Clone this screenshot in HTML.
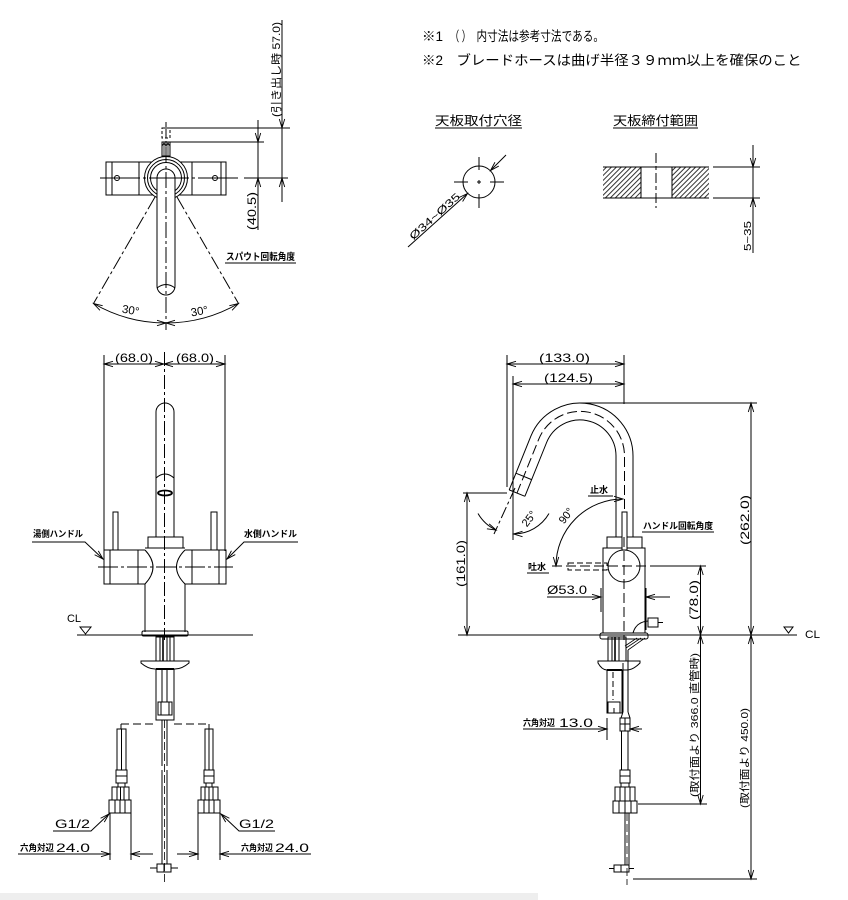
<!DOCTYPE html>
<html><head><meta charset="utf-8"><title>drawing</title>
<style>
html,body{margin:0;padding:0;background:#fff;width:848px;height:900px;overflow:hidden}
svg{display:block}
text{font-family:"Liberation Sans","Noto Sans CJK JP",sans-serif;fill:#000;stroke:none}
.b{font-weight:bold}
</style></head><body>
<svg width="848" height="900" viewBox="0 0 848 900" xmlns="http://www.w3.org/2000/svg">
<defs>
<marker id="a" markerUnits="userSpaceOnUse" markerWidth="12" markerHeight="8" refX="10" refY="4" orient="auto-start-reverse"><path d="M1,1.3 L10,4 L1,6.7" fill="none" stroke="#000" stroke-width="0.9"/></marker>
<pattern id="h" patternUnits="userSpaceOnUse" width="3.5" height="10" patternTransform="rotate(45)"><line x1="1" y1="0" x2="1" y2="10" stroke="#000" stroke-width="0.8"/></pattern>
</defs>
<rect x="0" y="893" width="538" height="7" fill="#eeeeee"/>

<g fill="none" stroke="#000" stroke-width="1">
<!-- ================= TOP VIEW ================= -->
<rect x="106" y="162" width="120" height="33"/>
<line x1="112" y1="162" x2="112" y2="195"/>
<line x1="139" y1="162" x2="139" y2="195"/>
<line x1="192" y1="162" x2="192" y2="195"/>
<line x1="221" y1="162" x2="221" y2="195"/>
<circle cx="117" cy="178" r="2.5"/>
<circle cx="215" cy="178" r="2.5"/>
<circle cx="166" cy="178" r="21.5" fill="#fff"/>
<circle cx="166" cy="178" r="18.5"/>
<circle cx="166" cy="178" r="15.5"/>
<rect x="162" y="142" width="8" height="14" fill="#fff"/>
<path d="M164,142 V156 M166,142 V156 M168,142 V156 M162,146 L164,143 L166,146 L168,143 L170,146" stroke-width="0.8"/>
<rect x="162" y="128" width="8" height="10" stroke-dasharray="3 2"/>
<path d="M157,178 A9,9 0 0 1 175,178 V286 A9,9 0 0 1 157,286 Z" fill="#fff"/>
<path d="M157,288 Q166,281 175,288"/>
<line x1="166" y1="122" x2="166" y2="330" stroke-dasharray="16 3 3 3"/>
<line x1="100" y1="178" x2="238" y2="178" stroke-dasharray="40 3 3 3"/>
<line x1="155" y1="197" x2="93.5" y2="303.5" stroke-dasharray="14 3 3 3"/>
<line x1="177" y1="197" x2="238.5" y2="303.5" stroke-dasharray="14 3 3 3"/>
<path d="M166,323 A145,145 0 0 1 93.5,303.5" marker-start="url(#a)" marker-end="url(#a)"/>
<path d="M166,323 A145,145 0 0 0 238.5,303.5" marker-start="url(#a)" marker-end="url(#a)"/>
<line x1="170" y1="128" x2="290" y2="128"/>
<line x1="170" y1="142" x2="264" y2="142"/>
<line x1="244" y1="178" x2="288" y2="178"/>
<line x1="258" y1="120" x2="258" y2="230"/>
<path d="M258,120 V142" marker-end="url(#a)"/>
<path d="M258,230 V178" marker-end="url(#a)"/>
<line x1="282" y1="20" x2="282" y2="202"/>
<path d="M282,100 V128" marker-end="url(#a)"/>
<path d="M282,202 V178" marker-end="url(#a)"/>
<line x1="225" y1="263" x2="296" y2="263"/>

<!-- ================= HOLE / THICKNESS ================= -->
<line x1="435" y1="128" x2="522" y2="128"/>
<line x1="613" y1="128" x2="698" y2="128"/>
<circle cx="479" cy="182" r="16"/>
<path d="M454,182 H468 M477,182 H481 M490,182 H504 M479,157 V170 M479,180 V184 M479,194 V208"/>
<path d="M506,155 L490.5,170.5" marker-end="url(#a)"/>
<path d="M408,247 L467.5,193.5" marker-end="url(#a)"/>
<rect x="603" y="167" width="38" height="31" fill="url(#h)" stroke="none"/>
<rect x="672" y="167" width="37" height="31" fill="url(#h)" stroke="none"/>
<line x1="603" y1="167" x2="709" y2="167"/>
<line x1="603" y1="198" x2="709" y2="198"/>
<line x1="641" y1="167" x2="641" y2="198"/>
<line x1="672" y1="167" x2="672" y2="198"/>
<line x1="656" y1="153" x2="656" y2="208" stroke-dasharray="10 3 4 3"/>
<line x1="713" y1="167" x2="760" y2="167"/>
<line x1="713" y1="198" x2="760" y2="198"/>
<line x1="753" y1="145" x2="753" y2="253"/>
<path d="M753,145 V167" marker-end="url(#a)"/>
<path d="M753,253 V198" marker-end="url(#a)"/>

<!-- ================= FRONT VIEW ================= -->
<line x1="104" y1="355" x2="104" y2="551"/>
<line x1="225" y1="355" x2="225" y2="551"/>
<path d="M104,364 H164" marker-start="url(#a)" marker-end="url(#a)"/>
<path d="M164,364 H225" marker-start="url(#a)" marker-end="url(#a)"/>
<path d="M156,537 V412 A9,9 0 0 1 174,412 V537" fill="#fff"/>
<path d="M156,478 Q165,470 174,478"/>
<ellipse cx="165" cy="493" rx="7" ry="2.5" stroke-width="1.8"/>
<rect x="148" y="537" width="35" height="11"/>
<line x1="145" y1="548" x2="185" y2="548"/>
<path d="M145,550 Q161,567 145,584"/>
<path d="M185,550 Q168,567 185,584"/>
<path d="M145,584 V632 M185,584 V632"/>
<path d="M145,550 H104 V584 H145"/>
<line x1="110" y1="550" x2="110" y2="584"/>
<line x1="138" y1="550" x2="138" y2="584"/>
<path d="M185,550 H226 V584 H185"/>
<line x1="192" y1="550" x2="192" y2="584"/>
<line x1="219" y1="550" x2="219" y2="584"/>
<rect x="113" y="512" width="5" height="38"/>
<rect x="211" y="512" width="6" height="38"/>
<rect x="142" y="631" width="46" height="5" rx="1.5"/>
<line x1="98" y1="567" x2="233" y2="567" stroke-dasharray="20 3 3 3"/>
<line x1="164.5" y1="352" x2="164.5" y2="640" stroke-dasharray="14 3 3 3"/>
<path d="M32,542 H85 L103,559" marker-end="url(#a)"/>
<path d="M298,542 H244 L227,559" marker-end="url(#a)"/>
<path d="M80,627 H91 L85.5,634 Z"/>
<line x1="77" y1="635" x2="253" y2="635"/>

<!-- front lower assembly -->
<rect x="156" y="637" width="18" height="24"/>
<line x1="160" y1="637" x2="160" y2="661"/>
<line x1="163" y1="637" x2="163" y2="661" stroke-width="1.6"/>
<line x1="167" y1="637" x2="167" y2="661"/>
<line x1="170" y1="637" x2="170" y2="661"/>
<path d="M141,661 H189 V663 Q182,669 175,669 H155 Q148,669 141,663 Z"/>
<rect x="156" y="669" width="18" height="51"/>
<line x1="156" y1="669" x2="174" y2="669" stroke-width="2"/>
<line x1="162" y1="669" x2="162" y2="702"/>
<line x1="167" y1="669" x2="167" y2="702"/>
<rect x="158" y="702" width="14" height="13"/>
<line x1="161" y1="702" x2="161" y2="715"/>
<line x1="169" y1="702" x2="169" y2="715"/>
<line x1="162" y1="720" x2="162" y2="766"/>
<line x1="167" y1="720" x2="167" y2="766"/>
<line x1="162" y1="770" x2="162" y2="864"/>
<line x1="167" y1="770" x2="167" y2="864"/>
<line x1="164.5" y1="720" x2="164.5" y2="885" stroke-dasharray="8 3" stroke-width="0.8"/>
<rect x="157" y="864" width="14" height="8"/>
<line x1="164" y1="864" x2="164" y2="872"/>
<path d="M150,868 H157 M171,868 H178"/>
<!-- connecting dashed -->
<path d="M121,724 V729 M209,724 V729"/>
<line x1="121" y1="724" x2="156" y2="724" stroke-dasharray="8 4"/>
<line x1="174" y1="724" x2="209" y2="724" stroke-dasharray="8 4"/>
<!-- left hose -->
<rect x="117" y="729" width="9" height="41"/>
<line x1="121.5" y1="729" x2="121.5" y2="770"/>
<rect x="116" y="770" width="11" height="13"/>
<line x1="116" y1="776" x2="127" y2="776"/>
<rect x="118" y="783" width="7" height="4"/>
<rect x="112" y="787" width="17" height="13"/>
<path d="M117,787 V800 M120.5,787 V800 M124,787 V800"/>
<rect x="109" y="800" width="22" height="13"/>
<path d="M115,800 V813 M120,800 V813 M125,800 V813"/>
<!-- right hose -->
<rect x="205" y="729" width="8" height="41"/>
<line x1="209" y1="729" x2="209" y2="770"/>
<rect x="204" y="770" width="10" height="13"/>
<line x1="204" y1="776" x2="214" y2="776"/>
<rect x="206" y="783" width="6" height="4"/>
<rect x="201" y="787" width="17" height="13"/>
<path d="M205,787 V800 M209,787 V800 M213,787 V800"/>
<rect x="198" y="800" width="22" height="13"/>
<path d="M204,800 V813 M209,800 V813 M214,800 V813"/>
<!-- G1/2 & hex dims -->
<path d="M53,831 H91 L109,814" marker-end="url(#a)"/>
<path d="M275,831 H239 L221,814" marker-end="url(#a)"/>
<line x1="110" y1="813" x2="110" y2="860"/>
<line x1="131" y1="813" x2="131" y2="860"/>
<path d="M18,854 H110" marker-end="url(#a)"/>
<path d="M153,854 H131" marker-end="url(#a)"/>
<line x1="198" y1="813" x2="198" y2="860"/>
<line x1="220" y1="813" x2="220" y2="860"/>
<path d="M177,854 H198" marker-end="url(#a)"/>
<path d="M311,854 H220" marker-end="url(#a)"/>

<!-- ================= SIDE VIEW ================= -->
<line x1="507" y1="355" x2="507" y2="487"/>
<line x1="513" y1="376" x2="513" y2="540"/>
<line x1="624" y1="355" x2="624" y2="404"/>
<path d="M507,364 H624" marker-start="url(#a)" marker-end="url(#a)"/>
<path d="M513,384 H624" marker-start="url(#a)" marker-end="url(#a)"/>
<line x1="580" y1="403" x2="757" y2="403"/>
<!-- spout -->
<path d="M633,537 V456 A53,53 0 0 0 530.9,436.1 L509.2,489.9"/>
<path d="M616,537 V456 A36,36 0 0 0 546.6,442.5 L524.9,496.3"/>
<path d="M509.2,489.9 L524.9,496.3"/>
<path d="M515.9,473.2 L531.6,479.6"/>
<path d="M624.5,537 V456 A44.5,44.5 0 0 0 538.7,439.3 L517,493" stroke-dasharray="10 4"/>
<!-- 25 deg -->
<line x1="515" y1="488" x2="494" y2="534" stroke-dasharray="12 3 3 3"/>
<path d="M478,513.5 A41,41 0 0 0 496.2,530.1" marker-end="url(#a)"/>
<path d="M549,513.5 A41,41 0 0 1 513.5,534" marker-end="url(#a)"/>
<!-- 161 -->
<line x1="463" y1="493" x2="507" y2="493"/>
<path d="M467,493 V635" marker-start="url(#a)" marker-end="url(#a)"/>
<!-- body -->
<rect x="607" y="537" width="35" height="11" fill="#fff"/>
<rect x="603" y="548" width="42" height="85"/>
<rect x="600" y="633" width="48" height="6" rx="2"/>
<circle cx="624" cy="566" r="16"/>
<rect x="622" y="512" width="5" height="38" fill="#fff"/>
<line x1="624" y1="537" x2="624" y2="640" stroke-dasharray="10 4"/>
<!-- 90 deg -->
<path d="M623,499 A67,67 0 0 0 556,566" marker-start="url(#a)" marker-end="url(#a)"/>
<rect x="568" y="563" width="39" height="7" stroke-dasharray="6 3"/>
<line x1="552" y1="566" x2="650" y2="566" stroke-dasharray="10 4"/>
<line x1="650" y1="566" x2="706" y2="566"/>
<line x1="588" y1="496" x2="613" y2="496"/>
<line x1="527" y1="573" x2="549" y2="573"/>
<line x1="642" y1="532" x2="714" y2="532"/>
<!-- fitting -->
<rect x="648" y="618" width="10" height="9"/>
<line x1="658" y1="622.5" x2="663" y2="622.5"/>
<path d="M633,633 Q636,622 648,621"/>
<!-- Ø53 -->
<line x1="601" y1="588" x2="601" y2="612"/>
<line x1="646" y1="588" x2="646" y2="630"/>
<path d="M547,597 H601" marker-end="url(#a)"/>
<path d="M670,597 H646" marker-end="url(#a)"/>
<!-- 78 / 262 / 366 / 450 -->
<path d="M700.5,566 V635" marker-start="url(#a)" marker-end="url(#a)"/>
<path d="M700.5,635 V804" marker-start="url(#a)" marker-end="url(#a)"/>
<line x1="638" y1="804" x2="707" y2="804"/>
<path d="M751,403 V635" marker-start="url(#a)" marker-end="url(#a)"/>
<path d="M751,635 V879" marker-start="url(#a)" marker-end="url(#a)"/>
<line x1="633" y1="879" x2="757" y2="879"/>
<!-- CL right -->
<line x1="458" y1="635" x2="797" y2="635"/>
<path d="M784,627 H793 L788.5,633 Z"/>
<!-- side lower assembly -->
<rect x="608" y="637" width="18" height="24"/>
<line x1="612" y1="637" x2="612" y2="661"/>
<line x1="615" y1="637" x2="615" y2="661" stroke-width="1.6"/>
<line x1="619" y1="637" x2="619" y2="661"/>
<path d="M645,638 L628,650 M641,638 L626,648 M637,638 L625,646" stroke-width="0.8"/>
<path d="M598,661 H640 V663 Q633,670 627,670 H607 Q602,670 598,663 Z"/>
<rect x="607" y="670" width="15" height="43"/>
<line x1="607" y1="670" x2="622" y2="670" stroke-width="2"/>
<rect x="608" y="702" width="12" height="11"/>
<line x1="614" y1="708" x2="614" y2="713"/>
<line x1="613" y1="672" x2="613" y2="700" stroke-dasharray="6 3"/>
<path d="M623,663 V712 M628,650 V712"/>
<rect x="620" y="718" width="10" height="13"/>
<path d="M620,724 H630 M625,718 V731"/>
<path d="M623,712 L621,718 M628,712 L630,718"/>
<rect x="621.5" y="731" width="6.5" height="39"/>
<rect x="620" y="770" width="10" height="13"/>
<line x1="620" y1="776" x2="630" y2="776"/>
<rect x="621" y="783" width="8" height="4"/>
<rect x="615" y="787" width="20" height="14"/>
<path d="M620,787 V801 M625,787 V801 M630,787 V801"/>
<rect x="613" y="801" width="24" height="12"/>
<path d="M619,801 V813 M625,801 V813 M631,801 V813"/>
<line x1="625" y1="813" x2="625" y2="865"/>
<line x1="629" y1="813" x2="629" y2="865"/>
<line x1="627" y1="813" x2="627" y2="885" stroke-dasharray="8 3" stroke-width="0.8"/>
<rect x="614" y="865" width="15" height="7"/>
<line x1="621" y1="865" x2="621" y2="872"/>
<path d="M609,868.5 H614 M629,868.5 H634"/>
<path d="M523,729 H607" marker-end="url(#a)"/>
<line x1="607" y1="718" x2="607" y2="740"/>
<path d="M642,729 H630" marker-end="url(#a)"/>
</g>

<!-- ================= TEXT ================= -->
<text x="422" y="41" font-size="13.5">※1</text>
<text x="450" y="41" font-size="13.5" textLength="21" lengthAdjust="spacingAndGlyphs">（ ）</text>
<text x="476.5" y="41" font-size="13.5" textLength="127.5" lengthAdjust="spacingAndGlyphs">内寸法は参考寸法である。</text>
<text x="422" y="65" font-size="13.5">※2</text>
<text x="456.5" y="65" font-size="13.5" textLength="345" lengthAdjust="spacingAndGlyphs">ブレードホースは曲げ半径３９ｍｍ以上を確保のこと</text>
<text x="435" y="125" font-size="12.5" textLength="87" lengthAdjust="spacingAndGlyphs">天板取付穴径</text>
<text x="613" y="125" font-size="12.5" textLength="85" lengthAdjust="spacingAndGlyphs">天板締付範囲</text>
<text transform="translate(437,219) rotate(-42)" text-anchor="middle" font-size="10.5" textLength="64" lengthAdjust="spacingAndGlyphs">Ø34~Ø35</text>
<text transform="translate(751,236) rotate(-90)" text-anchor="middle" font-size="10.5" textLength="30" lengthAdjust="spacingAndGlyphs">5~35</text>

<text transform="translate(256,211) rotate(-90)" text-anchor="middle" font-size="11.5" textLength="38" lengthAdjust="spacingAndGlyphs">(40.5)</text>
<text transform="translate(280,69.5) rotate(-90)" text-anchor="middle" font-size="11" textLength="95" lengthAdjust="spacingAndGlyphs">(引き出し時 57.0)</text>
<text x="226" y="260" font-size="9.5" class="b" textLength="69" lengthAdjust="spacingAndGlyphs">スパウト回転角度</text>
<text transform="translate(130,314) rotate(10)" text-anchor="middle" font-size="11.5">30°</text>
<text transform="translate(200,315) rotate(-10)" text-anchor="middle" font-size="11.5">30°</text>

<text x="115" y="362" font-size="12" textLength="38" lengthAdjust="spacingAndGlyphs">(68.0)</text>
<text x="176" y="362" font-size="12" textLength="38" lengthAdjust="spacingAndGlyphs">(68.0)</text>
<text x="33" y="537" font-size="9" class="b" textLength="50" lengthAdjust="spacingAndGlyphs">湯側ハンドル</text>
<text x="244" y="537" font-size="9" class="b" textLength="53" lengthAdjust="spacingAndGlyphs">水側ハンドル</text>
<text x="67" y="622" font-size="11" textLength="14" lengthAdjust="spacingAndGlyphs">CL</text>
<text x="55" y="828" font-size="12" textLength="35" lengthAdjust="spacingAndGlyphs">G1/2</text>
<text x="239" y="828" font-size="12" textLength="35" lengthAdjust="spacingAndGlyphs">G1/2</text>
<text x="20" y="851" font-size="9" class="b" textLength="34" lengthAdjust="spacingAndGlyphs">六角対辺</text>
<text x="56" y="852" font-size="12" textLength="34" lengthAdjust="spacingAndGlyphs">24.0</text>
<text x="241" y="851" font-size="9" class="b" textLength="32" lengthAdjust="spacingAndGlyphs">六角対辺</text>
<text x="275" y="852" font-size="12" textLength="34" lengthAdjust="spacingAndGlyphs">24.0</text>

<text x="539" y="362" font-size="12" textLength="51" lengthAdjust="spacingAndGlyphs">(133.0)</text>
<text x="544" y="382" font-size="12" textLength="49" lengthAdjust="spacingAndGlyphs">(124.5)</text>
<text transform="translate(532,521) rotate(-52)" text-anchor="middle" font-size="11">25°</text>
<text transform="translate(569,518) rotate(-52)" text-anchor="middle" font-size="11">90°</text>
<text x="590" y="493" font-size="9" class="b" textLength="18" lengthAdjust="spacingAndGlyphs">止水</text>
<text x="528" y="570" font-size="9" class="b" textLength="18" lengthAdjust="spacingAndGlyphs">吐水</text>
<text x="643" y="529" font-size="9" class="b" textLength="70" lengthAdjust="spacingAndGlyphs">ハンドル回転角度</text>
<text x="547" y="594" font-size="12" textLength="40" lengthAdjust="spacingAndGlyphs">Ø53.0</text>
<text transform="translate(465,563.5) rotate(-90)" text-anchor="middle" font-size="12" textLength="47" lengthAdjust="spacingAndGlyphs">(161.0)</text>
<text transform="translate(749,520) rotate(-90)" text-anchor="middle" font-size="12" textLength="50" lengthAdjust="spacingAndGlyphs">(262.0)</text>
<text transform="translate(698,600) rotate(-90)" text-anchor="middle" font-size="12" textLength="40" lengthAdjust="spacingAndGlyphs">(78.0)</text>
<text transform="translate(698,725) rotate(-90)" text-anchor="middle" font-size="10.5" textLength="144" lengthAdjust="spacingAndGlyphs">(取付面より 366.0 直管時)</text>
<text transform="translate(748,758) rotate(-90)" text-anchor="middle" font-size="10.5" textLength="100" lengthAdjust="spacingAndGlyphs">(取付面より 450.0)</text>
<text x="805" y="638" font-size="11" textLength="15" lengthAdjust="spacingAndGlyphs">CL</text>
<text x="523" y="726" font-size="9" class="b" textLength="32" lengthAdjust="spacingAndGlyphs">六角対辺</text>
<text x="559" y="727" font-size="12" textLength="34" lengthAdjust="spacingAndGlyphs">13.0</text>
</svg>
</body></html>
